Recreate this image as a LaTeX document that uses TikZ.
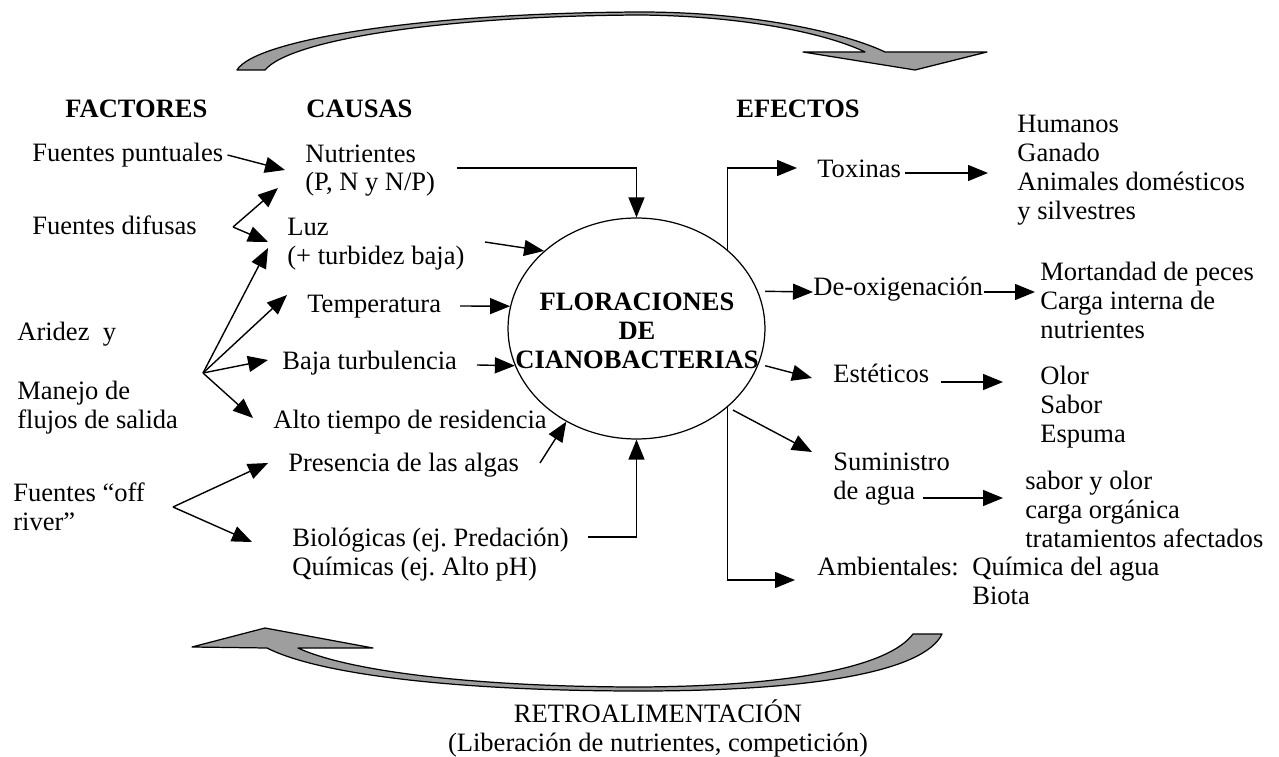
\documentclass[tikz,border=0pt]{standalone}
\usepackage{fontspec}
\setmainfont{Liberation Serif}
\usepackage{tikz}
\usetikzlibrary{arrows.meta,shapes,positioning,calc}
\frenchspacing

\begin{document}
\begin{tikzpicture}[x=0.02cm,y=-0.02cm,>={Triangle[length=0.4cm,width=0.32cm]},
  font=\fontsize{15.1}{16.5}\selectfont,
  txt/.style={inner sep=0,anchor=base west,align=left},
  hdr/.style={txt,font=\fontsize{15.1}{16.5}\selectfont\bfseries},
  con/.style={->,line width=0.8pt},
  band/.style={fill=black!38,draw=black,line width=0.7pt,line join=round}]
  \useasboundingbox (0,0) rectangle (1279,757);

  % feedback arrows (top and bottom)
  \draw[band] (237,70) .. controls (255,40) and (420,13) .. (640,12)
    .. controls (760,12) and (850,35) .. (885,52) -- (987,52) -- (915,70) -- (803,52) -- (865,52)
    .. controls (830,35) and (750,16) .. (640,15) .. controls (440,16) and (290,40) .. (265,70) -- cycle;
  \draw[band] (192,647) -- (265,628) -- (373,648) -- (298,648)
    .. controls (350,672) and (480,687) .. (640,687) .. controls (800,686) and (890,665) .. (913,634)
    -- (942,634) .. controls (925,670) and (820,691) .. (640,691) .. controls (460,691) and (320,675) .. (267,648) -- cycle;

  % headers
  \node[hdr] (hfac) at (65,118) {FACTORES};
  \node[hdr] (hcau) at (306,118) {CAUSAS};
  \node[hdr] (hefe) at (736,118) {EFECTOS};

  % factores (multi-line nodes sit on their last baseline)
  \node[txt] (fpun) at (32,162) {Fuentes puntuales};
  \node[txt] (fdif) at (32,235) {Fuentes difusas};
  \node[txt] (arid) at (17,340) {Aridez\ \ y};
  \node[txt] (mane) at (17,428) {Manejo de\\flujos de salida};
  \node[txt] (foff) at (13,530) {Fuentes “off\\river”};

  % causas
  \node[txt] (nutr) at (305,191) {Nutrientes\\(P, N y N/P)};
  \node[txt] (luz) at (287,264) {Luz\\(+ turbidez baja)};
  \node[txt] (temp) at (307,312) {Temperatura};
  \node[txt] (baja) at (282,369) {Baja turbulencia};
  \node[txt] (alto) at (273,428) {Alto tiempo de residencia};
  \node[txt] (pres) at (288,471) {Presencia de las algas};
  \node[txt] (biol) at (292,575) {Biológicas (ej. Predación)\\Químicas (ej. Alto pH)};

  % floraciones
  \node[draw,ellipse,line width=0.7pt,minimum width=5.14cm,minimum height=4.42cm,inner sep=0] (flor) at (636.5,328.5) {};
  \node[inner sep=0,align=center,font=\fontsize{15.1}{16.5}\selectfont\bfseries] (flortxt) at (637,331) {FLORACIONES\\DE\\CIANOBACTERIAS};

  % efectos
  \node[txt] (tox) at (817,177) {Toxinas};
  \node[txt] (deox) at (813,296) {De-oxigenación};
  \node[txt] (este) at (833,382) {Estéticos};
  \node[txt] (sumi) at (833,499) {Suministro\\de agua};
  \node[txt] (ambi) at (817,575) {Ambientales:};
  \node[txt] (quim) at (972,604) {Química del agua\\Biota};

  \node[txt] (humn) at (1017,219) {Humanos\\Ganado\\Animales domésticos\\y silvestres};
  \node[txt] (mort) at (1040,338) {Mortandad de peces\\Carga interna de\\nutrientes};
  \node[txt] (olor) at (1040,442) {Olor\\Sabor\\Espuma};
  \node[txt] (sabo) at (1025,547) {sabor y olor\\carga orgánica\\tratamientos afectados};

  \node[inner sep=0,align=center] (retro) at (658,728) {RETROALIMENTACIÓN\\(Liberación de nutrientes, competición)};

  % factores -> causas
  \coordinate (dif) at ($(fdif.base east)+(36,-8)$);
  \coordinate (fan) at ($(mane.base west)+(186,-55)$);
  \coordinate (off) at ($(foff.base west)+(160,-23)$);
  \draw[con] ($(fpun.base east)+(4,-7)$) -- ($(nutr.base west)+(-20,-21)$);
  \draw[con] (dif) -- ($(nutr.base west)+(-27,-3)$);
  \draw[con] (dif) -- ($(luz.base west)+(-19,-22)$);
  \draw[con] (fan) -- ($(luz.base west)+(-19,-16)$);
  \draw[con] (fan) -- ($(temp.base west)+(-20,-17)$);
  \draw[con] (fan) -- ($(baja.base west)+(-14,-9)$);
  \draw[con] (fan) -- ($(alto.base west)+(-20,-10)$);
  \draw[con] (off) -- ($(pres.base west)+(-20,-8)$);
  \draw[con] (off) -- ($(biol.base west)+(-40,-33)$);

  % causas -> floraciones
  \draw[con] ($(nutr.base west)+(152,-23)$) -| (flor.north);
  \draw[con] ($(luz.base west)+(198,-22)$) -- (flor.140);
  \draw[con] ($(temp.base west)+(153,-6)$) -- (flor.170);
  \draw[con] ($(baja.base west)+(195,-4)$) -- (flor.197);
  \draw[con] ($(pres.base west)+(252,-8)$) -- (flor.233);
  \draw[con] ($(biol.base west)+(296,-38)$) -| (flor.south);

  % floraciones -> efectos
  \draw[con] (flor.41) |- ($(tox.base west)+(-20,-9)$);
  \draw[con] (flor.319) |- ($(ambi.base west)+(-22,5)$);
  \draw[con] ($(flor.17)+(7,0)$) -- ($(deox.base west)+(0,-4)$);
  \draw[con] ($(flor.343)+(7,0)$) -- ($(este.base west)+(-21,-4)$);
  \draw[con] ($(flor.320)+(4,4)$) -- ($(sumi.base west)+(-21,-47)$);

  % efectos -> consecuencias
  \draw[con] ($(tox.base east)+(4,-4)$) -- ($(humn.base west)+(-29,-46)$);
  \draw[con] ($(deox.base east)+(1,-4)$) -- ($(mort.base west)+(-5,-46)$);
  \draw[con] ($(este.base east)+(12,0)$) -- ($(olor.base west)+(-37,-60)$);
  \draw[con] ($(sumi.base west)+(90,-1)$) -- ($(sabo.base west)+(-22,-49)$);
\end{tikzpicture}
\end{document}
